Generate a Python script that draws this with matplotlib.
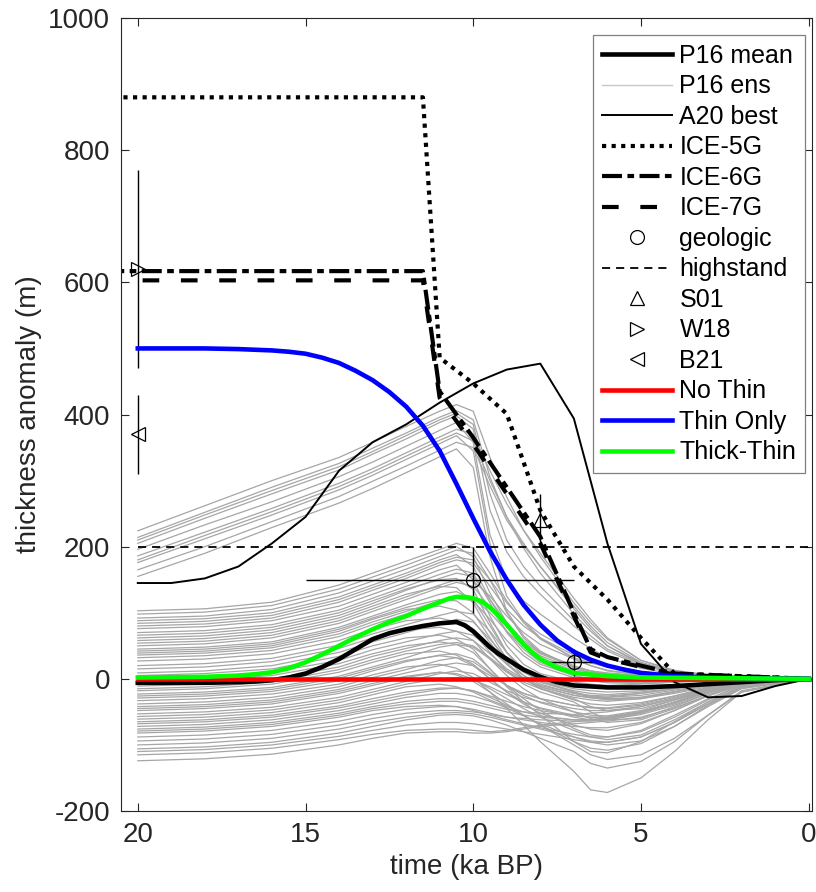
import matplotlib
matplotlib.use("Agg")
import matplotlib.pyplot as plt
from matplotlib.lines import Line2D

plt.rcParams['font.family'] = ['Liberation Sans', 'DejaVu Sans']
plt.rcParams['axes.unicode_minus'] = False

# --- reconstructions (time in ka BP, thickness anomaly in m) ---
t_mean = [20, 18, 17, 16.5, 16, 15.5, 15, 14.5, 14, 13.5, 13, 12.5, 12, 11.5, 11, 10.5, 10.25, 10,
          9.75, 9.5, 9.25, 9, 8.5, 8, 7.5, 7, 6, 5, 4, 3, 2, 1, 0]
p16_mean = [-6, -6, -5, -4, -2, 2, 8, 18, 30, 45, 60, 69, 75, 80, 84, 86, 81, 72,
            60, 48, 38, 30, 14, 3, -5, -10, -13, -13, -11, -8, -5, -2, 0]

t_a20 = [20, 19, 18, 17, 16, 15, 14, 13, 12, 11, 10, 9, 8, 7, 6, 5, 4, 3, 2, 1, 0]
a20_best = [145, 145, 152, 170, 205, 245, 315, 358, 385, 418, 447, 468, 477, 394, 205, 53, -5, -28, -26, -11, 0]

t_ice5g = [21, 11.5, 11, 10, 9, 8, 7, 6, 5, 4, 0]
ice5g = [880, 880, 486, 447, 401, 255, 170, 120, 62, 8, 0]

t_ice6g = [21, 11.5, 11, 10, 9, 8, 7, 6.5, 6, 5, 4, 0]
ice6g = [617, 617, 435, 365, 290, 215, 100, 45, 33, 20, 8, 0]

t_ice7g = [21, 11.5, 11, 10, 9, 8, 7, 6.5, 6, 5, 4, 0]
ice7g = [603, 603, 425, 355, 280, 205, 95, 40, 30, 18, 6, 0]

t_highstand = [20, 0]
highstand = [200, 200]

t_nothin = [20, 0]
no_thin = [0, 0]

t_thin = [20, 18, 17, 16, 15.5, 15, 14.5, 14, 13.5, 13, 12.5, 12, 11.5, 11, 10.5, 10, 9.5, 9,
          8.5, 8, 7.5, 7, 6.5, 6, 5.5, 5, 4, 3, 2, 0]
thin_only = [500, 500, 499, 497, 495, 492, 486, 478, 466, 452, 434, 412, 383, 345, 295, 243, 193, 150,
             112, 82, 58, 41, 29, 20, 14, 9, 4, 2, 1, 0]

t_thick = [20, 18, 17, 16.5, 16, 15.5, 15, 14.5, 14, 13.5, 13, 12.5, 12, 11.5, 11, 10.75, 10.5, 10.25,
           10, 9.75, 9.5, 9.25, 9, 8.75, 8.5, 8.25, 8, 7.5, 7, 6, 5, 0]
thick_thin = [2, 3, 5, 7, 10, 16, 25, 37, 50, 63, 75, 86, 95, 106, 116, 121, 124, 124,
              122, 117, 108, 96, 82, 67, 52, 40, 30, 17, 9, 4, 2, 0]

# P16 ensemble members, sampled at t_ens
t_ens = [20, 18, 16, 14, 13, 12, 11, 10.5, 10, 9.5, 9, 8.5, 8, 7, 6.5, 6, 5, 4, 3, 2, 0]
p16_ens = [
    [224, 262, 300, 335, 358, 382, 405, 415, 405, 335, 275, 225, 185, 115, 85, 60, 28, 13, 6, 3, 0],
    [214, 252, 290, 326, 349, 372, 396, 406, 392, 305, 245, 198, 160, 98, 72, 50, 24, 11, 5, 2, 0],
    [210, 248, 285, 321, 344, 368, 392, 402, 385, 280, 210, 170, 140, 88, 65, 45, 22, 10, 5, 2, 0],
    [205, 243, 280, 316, 340, 363, 388, 398, 378, 255, 192, 155, 128, 80, 60, 42, 20, 9, 4, 2, 0],
    [196, 233, 268, 306, 328, 352, 376, 388, 358, 218, 150, 118, 98, 62, 46, 32, 16, 7, 3, 1, 0],
    [186, 222, 258, 296, 318, 342, 366, 378, 370, 315, 265, 225, 190, 122, 90, 62, 28, 12, 6, 3, 0],
    [180, 217, 253, 291, 313, 337, 361, 372, 360, 300, 245, 205, 170, 110, 80, 55, 25, 11, 5, 2, 0],
    [176, 212, 248, 286, 308, 332, 356, 368, 345, 205, 125, 88, 62, 30, 20, 12, 6, 3, 1, 0, 0],
    [165, 200, 238, 276, 299, 322, 346, 358, 350, 292, 240, 202, 170, 106, 76, 50, 22, 10, 5, 2, 0],
    [155, 190, 229, 266, 288, 312, 336, 348, 320, 185, 102, 65, 42, 16, 9, 5, 2, 1, 0, 0, 0],
    [103, 106, 116, 142, 160, 178, 196, 205, 198, 160, 118, 85, 60, 32, 24, 18, 11, 6, 3, 1, 0],
    [98, 101, 111, 136, 154, 172, 191, 200, 185, 130, 85, 55, 38, 18, 12, 8, 4, 2, 1, 0, 0],
    [92, 95, 105, 130, 148, 166, 185, 195, 190, 150, 100, 62, 40, 18, 12, 9, 5, 3, 1, 0, 0],
    [88, 91, 100, 124, 142, 160, 180, 188, 170, 120, 78, 52, 35, 15, 10, 7, 4, 2, 1, 0, 0],
    [84, 87, 96, 120, 138, 156, 176, 184, 180, 150, 115, 88, 68, 40, 30, 21, 11, 5, 2, 1, 0],
    [80, 83, 92, 116, 134, 152, 172, 180, 175, 140, 105, 80, 62, 36, 26, 18, 10, 5, 2, 1, 0],
    [76, 79, 88, 110, 128, 146, 165, 172, 150, 95, 50, 22, 8, -5, -8, -10, -8, -5, -3, -1, 0],
    [70, 73, 82, 104, 122, 140, 158, 166, 160, 115, 70, 40, 22, 5, 0, -3, -4, -3, -2, -1, 0],
    [66, 69, 78, 100, 118, 136, 150, 152, 135, 85, 40, 12, -5, -18, -22, -24, -20, -14, -7, -2, 0],
    [62, 65, 74, 96, 114, 134, 152, 160, 155, 120, 85, 58, 40, 20, 12, 6, 2, 1, 0, 0, 0],
    [58, 61, 70, 92, 110, 128, 140, 138, 115, 70, 30, 5, -12, -25, -28, -28, -22, -15, -8, -3, 0],
    [54, 57, 66, 88, 106, 124, 142, 150, 148, 125, 95, 70, 52, 30, 20, 13, 6, 3, 1, 0, 0],
    [50, 53, 62, 84, 102, 120, 138, 146, 140, 108, 72, 45, 25, 5, -2, -5, -6, -4, -2, -1, 0],
    [45, 48, 56, 78, 95, 112, 128, 132, 120, 80, 40, 12, -5, -20, -28, -32, -30, -22, -12, -5, 0],
    [42, 45, 53, 75, 92, 108, 120, 118, 100, 62, 25, 0, -15, -32, -38, -40, -36, -26, -14, -5, 0],
    [39, 42, 50, 72, 90, 105, 110, 104, 88, 55, 22, 0, -14, -30, -42, -48, -45, -32, -18, -7, 0],
    [36, 39, 47, 68, 86, 102, 118, 126, 122, 100, 72, 50, 32, 12, 5, 0, -3, -3, -2, -1, 0],
    [32, 35, 43, 64, 82, 98, 115, 122, 118, 90, 58, 35, 18, 2, -3, -6, -7, -5, -3, -1, 0],
    [27, 30, 38, 58, 75, 88, 92, 86, 70, 40, 12, -8, -20, -35, -50, -62, -60, -42, -22, -8, 0],
    [20, 23, 31, 51, 68, 82, 96, 102, 98, 72, 40, 15, -2, -20, -26, -28, -25, -17, -9, -3, 0],
    [15, 18, 26, 46, 62, 74, 78, 72, 58, 30, 5, -15, -30, -50, -60, -66, -62, -45, -25, -9, 0],
    [9, 12, 20, 40, 56, 70, 84, 90, 86, 60, 30, 10, -3, -15, -18, -20, -18, -12, -6, -2, 0],
    [5, 8, 15, 34, 50, 62, 66, 60, 45, 15, -12, -35, -55, -95, -110, -112, -95, -65, -35, -12, 0],
    [0, 3, 10, 28, 44, 56, 68, 72, 66, 45, 22, 5, -8, -22, -27, -30, -28, -20, -10, -3, 0],
    [-5, -2, 5, 23, 38, 50, 56, 52, 40, 15, -10, -30, -48, -75, -85, -88, -78, -55, -30, -10, 0],
    [-11, -8, 0, 18, 34, 46, 58, 62, 58, 38, 15, 0, -10, -22, -25, -26, -22, -15, -8, -3, 0],
    [-15, -12, -5, 14, 29, 42, 52, 55, 50, 32, 12, -2, -12, -25, -29, -31, -28, -19, -9, -3, 0],
    [-18, -15, -8, 10, 25, 38, 42, 36, 22, 0, -20, -35, -45, -58, -62, -62, -52, -35, -18, -6, 0],
    [-23, -20, -13, 4, 18, 32, 48, 52, 48, 30, 10, -5, -15, -28, -32, -34, -30, -20, -10, -3, 0],
    [-26, -23, -16, 1, 15, 28, 35, 32, 20, 0, -20, -38, -52, -70, -76, -78, -68, -48, -25, -8, 0],
    [-29, -26, -19, -3, 12, 26, 36, 38, 30, 10, -10, -25, -36, -50, -55, -56, -48, -32, -16, -5, 0],
    [-33, -30, -23, -8, 6, 18, 22, 16, 2, -20, -45, -70, -95, -140, -168, -172, -150, -110, -62, -20, 0],
    [-38, -35, -28, -12, 2, 14, 28, 32, 26, 8, -10, -22, -30, -40, -44, -45, -40, -28, -14, -5, 0],
    [-42, -39, -32, -16, -3, 9, 20, 24, 20, 5, -10, -22, -30, -40, -43, -44, -38, -26, -13, -4, 0],
    [-45, -42, -35, -19, -7, 4, 10, 6, -4, -20, -38, -55, -70, -95, -105, -108, -98, -72, -40, -14, 0],
    [-48, -45, -38, -22, -10, 2, 10, 8, 0, -15, -30, -45, -58, -78, -88, -92, -85, -62, -35, -12, 0],
    [-53, -50, -43, -28, -16, -4, 8, 12, 8, -5, -18, -28, -35, -45, -48, -48, -42, -30, -15, -5, 0],
    [-57, -54, -47, -32, -20, -8, 0, 2, -2, -12, -24, -35, -44, -55, -58, -58, -50, -36, -18, -6, 0],
    [-61, -58, -51, -36, -24, -12, -8, -12, -20, -32, -42, -50, -56, -62, -62, -60, -50, -35, -18, -6, 0],
    [-65, -62, -55, -41, -30, -20, -14, -14, -18, -26, -34, -42, -48, -56, -58, -58, -50, -36, -18, -6, 0],
    [-68, -65, -58, -44, -34, -24, -16, -14, -18, -28, -40, -55, -70, -100, -115, -122, -115, -90, -55, -20, 0],
    [-72, -69, -62, -48, -38, -28, -22, -22, -26, -34, -44, -56, -68, -88, -96, -100, -94, -72, -42, -15, 0],
    [-76, -73, -66, -52, -42, -34, -30, -30, -34, -40, -46, -50, -52, -54, -52, -50, -42, -30, -16, -5, 0],
    [-79, -76, -69, -55, -45, -38, -34, -34, -38, -44, -50, -55, -58, -62, -62, -60, -52, -38, -20, -7, 0],
    [-82, -79, -72, -58, -48, -42, -40, -42, -48, -55, -62, -68, -74, -84, -88, -88, -80, -58, -32, -10, 0],
    [-88, -85, -78, -64, -54, -46, -42, -42, -46, -52, -58, -62, -66, -72, -74, -74, -66, -48, -26, -9, 0],
    [-94, -91, -84, -70, -60, -52, -48, -48, -50, -54, -58, -60, -62, -64, -64, -62, -54, -40, -22, -8, 0],
    [-100, -97, -90, -76, -66, -58, -52, -51, -53, -58, -64, -70, -76, -88, -94, -96, -88, -66, -38, -13, 0],
    [-106, -103, -96, -82, -72, -62, -55, -54, -56, -62, -70, -80, -90, -110, -128, -135, -125, -95, -55, -18, 0],
    [-110, -107, -100, -87, -78, -70, -66, -66, -68, -72, -76, -80, -84, -92, -96, -96, -88, -66, -38, -13, 0],
    [-115, -112, -105, -92, -84, -78, -76, -76, -78, -80, -78, -74, -70, -65, -62, -58, -50, -36, -20, -7, 0],
    [-124, -121, -114, -100, -90, -82, -80, -80, -82, -82, -80, -76, -72, -68, -66, -64, -58, -44, -25, -9, 0],
]

# --- point constraints ---
geo_t = [10, 7]
geo_v = [150, 25]
geo_xerr = [[3, 0.8], [5, 0.8]]
geo_yerr = [50, 20]

s01_t, s01_v, s01_err = 8, 240, 40
w18_t, w18_v, w18_err = 20, 620, 150
b21_t, b21_v, b21_err = 20, 370, 60

ens_grey = (0.65, 0.65, 0.65)
ax_col = (0.15, 0.15, 0.15)

fig = plt.figure(figsize=(8.16, 8.92), dpi=100)
ax = fig.add_axes([0.1483, 0.0908, 0.8468, 0.889])

for member in p16_ens:
    ax.plot(t_ens, member, color=ens_grey, lw=0.9)

ax.plot(t_mean, p16_mean, color='k', lw=3.3)
ax.plot(t_a20, a20_best, color='k', lw=1.4)
ax.plot(t_ice5g, ice5g, color='k', lw=3, dashes=(1, 1.3))
ax.plot(t_ice6g, ice6g, color='k', lw=3, dashes=(4.8, 1.3, 1.6, 1.3))
ax.plot(t_ice7g, ice7g, color='k', lw=3, dashes=(4, 5.2))
ax.plot(t_highstand, highstand, color='k', lw=1.3, dashes=(4.5, 3.3))

ax.errorbar(geo_t, geo_v, xerr=geo_xerr, yerr=geo_yerr, fmt='o', ms=10,
            mfc='none', mec='k', mew=0.9, ecolor='k', elinewidth=1, capsize=0)
ax.errorbar([s01_t], [s01_v], yerr=[s01_err], fmt='^', ms=10,
            mfc='none', mec='k', mew=0.9, ecolor='k', elinewidth=1, capsize=0)
ax.errorbar([w18_t], [w18_v], yerr=[w18_err], fmt='>', ms=10,
            mfc='none', mec='k', mew=0.9, ecolor='k', elinewidth=1, capsize=0)
ax.errorbar([b21_t], [b21_v], yerr=[b21_err], fmt='<', ms=10,
            mfc='none', mec='k', mew=0.9, ecolor='k', elinewidth=1, capsize=0)

ax.plot(t_nothin, no_thin, color=(1, 0, 0), lw=3.3)
ax.plot(t_thin, thin_only, color=(0, 0, 1), lw=3.3)
ax.plot(t_thick, thick_thin, color=(0, 1, 0), lw=3.3)

ax.set_xlim(20.5, -0.1)
ax.set_ylim(-200, 1000)
ax.set_xticks([20, 15, 10, 5, 0])
ax.set_yticks(range(-200, 1001, 200))
ax.tick_params(direction='in', length=6, width=0.8, top=True, right=True,
               labelsize=20, colors=ax_col, pad=8)
for sp in ax.spines.values():
    sp.set_color(ax_col)
    sp.set_linewidth(0.8)
ax.set_xlabel('time (ka BP)', fontsize=20, color=ax_col)
ax.set_ylabel('thickness anomaly (m)', fontsize=20, color=ax_col)

handles = [
    Line2D([], [], color='k', lw=3.3),
    Line2D([], [], color=(0.78, 0.78, 0.78), lw=1),
    Line2D([], [], color='k', lw=1.4),
    Line2D([], [], color='k', lw=3, dashes=(1, 1.3)),
    Line2D([], [], color='k', lw=3, dashes=(4.8, 1.3, 1.6, 1.3)),
    Line2D([], [], color='k', lw=3, dashes=(4, 5.2)),
    Line2D([], [], ls='none', marker='o', ms=10, mfc='none', mec='k', mew=0.9),
    Line2D([], [], color='k', lw=1.3, dashes=(4.5, 3.3)),
    Line2D([], [], ls='none', marker='^', ms=10, mfc='none', mec='k', mew=0.9),
    Line2D([], [], ls='none', marker='>', ms=10, mfc='none', mec='k', mew=0.9),
    Line2D([], [], ls='none', marker='<', ms=10, mfc='none', mec='k', mew=0.9),
    Line2D([], [], color=(1, 0, 0), lw=3.3),
    Line2D([], [], color=(0, 0, 1), lw=3.3),
    Line2D([], [], color=(0, 1, 0), lw=3.3),
]
labels = ['P16 mean', 'P16 ens', 'A20 best', 'ICE-5G', 'ICE-6G', 'ICE-7G',
          'geologic', 'highstand', 'S01', 'W18', 'B21',
          'No Thin', 'Thin Only', 'Thick-Thin']
leg = ax.legend(handles, labels, loc='upper right', bbox_to_anchor=(0.99, 0.9785),
                borderaxespad=0, fontsize=18, handlelength=2.8, handletextpad=0.3,
                labelspacing=0.26, borderpad=0.35, fancybox=False, framealpha=1)
leg.get_frame().set_edgecolor((0.5, 0.5, 0.5))
leg.get_frame().set_linewidth(0.9)

fig.savefig('out.png', dpi=100)
